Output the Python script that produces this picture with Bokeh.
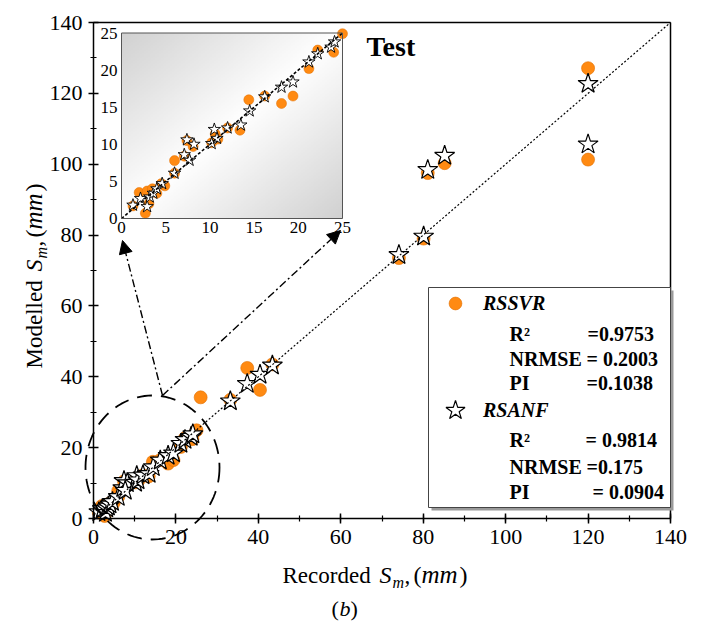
import numpy as np
from bokeh.plotting import figure
from bokeh.models import (Range1d, SingleIntervalTicker, FixedTicker, Label, Arrow, NormalHead,
                          PolyAnnotation, BoxAnnotation, Legend, LegendItem, LinearAxis)
from bokeh.core.properties import value
from bokeh.embed import file_html
from bokeh.resources import INLINE

# ---------------- data ----------------
svr_rec = [1.3, 2.0, 2.9, 3.5, 2.7, 3.1, 4.0, 4.5, 4.9, 6.0, 6.0, 7.1, 7.4, 8.1,
           10.2, 10.6, 10.9, 12.0, 13.4, 14.4, 16.2, 18.1, 19.4, 21.2, 22.2, 24.0,
           25.0, 26.0, 33.2, 37.3, 40.4, 43.4, 74.1, 80.1, 81.1, 85.2, 120.0, 120.0]
svr_mod = [1.7, 3.5, 3.7, 4.0, 0.7, 2.0, 3.4, 4.7, 4.4, 6.1, 7.8, 8.4, 10.5, 9.7,
           10.2, 11.4, 10.7, 12.2, 11.9, 16.0, 16.5, 15.5, 16.5, 20.2, 22.7, 22.4,
           24.9, 34.2, 33.5, 42.5, 36.3, 43.5, 73.5, 79.0, 97.5, 100.3, 127.1, 101.3]
anf_rec = [1.3, 2.15, 2.9, 3.2, 3.6, 4.0, 4.6, 6.0, 7.1, 7.4, 8.2, 7.7, 10.2, 10.5,
           10.8, 12.0, 13.5, 14.5, 16.2, 18.1, 19.4, 21.2, 22.2, 23.7, 24.1,
           33.2, 37.3, 40.4, 43.4, 74.1, 80.1, 81.1, 85.2, 120.0, 120.0]
anf_mod = [1.8, 2.7, 1.6, 2.9, 3.4, 4.0, 4.7, 6.1, 8.6, 10.6, 10.0, 7.85, 10.1, 12.0,
           10.8, 12.2, 12.6, 14.5, 16.4, 17.7, 18.4, 21.1, 22.2, 23.1, 23.8,
           33.1, 38.0, 40.6, 43.2, 74.4, 79.6, 98.4, 102.4, 122.7, 105.6]
main_lim = [0, 140]
inset_lim = [0, 25]
inset_ticks = [0, 5, 10, 15, 20, 25]
stat_names = ["R\u00b2", "NRMSE", "PI"]
svr_stats = ["=0.9753", "= 0.2003", "=0.1038"]
anf_stats = ["= 0.9814", "=0.175", "= 0.0904"]

# ---------------- layout constants (pixels) ----------------
W, H = 704, 624
FL, FR, FT, FB = 93, 670, 22, 518          # visible plot box
IL, IR, IT, IB = 121, 342, 32.5, 218        # inset box
SERIF = "Liberation Serif"
ORANGE, ORANGE_EDGE = "#FF8A12", "#E06E00"
BASE_SHIFT = 0.36                           # Label anchor vs. alphabetic baseline (em)

# The frame fills the whole canvas; the plot box [0,140]^2 sits at FL..FR, FT..FB.
kxm = (FR - FL) / (main_lim[1] - main_lim[0])
kym = (FB - FT) / (main_lim[1] - main_lim[0])
x_rng = Range1d(main_lim[0] - FL / kxm, main_lim[1] + (W - FR) / kxm)
y_rng = Range1d(main_lim[0] - (H - FB) / kym, main_lim[1] + FT / kym)


def dx(px):
    return main_lim[0] + (px - FL) / kxm


def dy(py):
    return main_lim[0] + (FB - py) / kym


p = figure(width=W, height=H, x_range=x_rng, y_range=y_rng,
           output_backend="svg", toolbar_location=None, x_axis_location=None,
           y_axis_location=None, min_border=0)
p.grid.visible = False
p.outline_line_color = None
p.background_fill_color = "white"
p.border_fill_color = "white"


def make_axis(loc, ticks=True):
    if ticks:
        ax = LinearAxis(fixed_location=loc, bounds=tuple(main_lim),
                        ticker=SingleIntervalTicker(interval=20, num_minor_ticks=2),
                        axis_line_width=1.5, axis_line_color="black",
                        major_tick_line_width=1.5, minor_tick_line_width=1.2,
                        major_tick_in=5, major_tick_out=5, minor_tick_in=3, minor_tick_out=3,
                        major_label_text_font=SERIF, major_label_text_font_size="22px",
                        major_label_text_color="black", major_label_standoff=6)
    else:
        ax = LinearAxis(fixed_location=loc, bounds=tuple(main_lim),
                        ticker=FixedTicker(ticks=[]), axis_line_width=1.5,
                        axis_line_color="black", major_tick_line_color=None,
                        minor_tick_line_color=None)
    return ax


p.add_layout(make_axis(main_lim[0]), "below")
p.add_layout(make_axis(main_lim[0]), "left")
p.add_layout(make_axis(main_lim[1], ticks=False), "above")
p.add_layout(make_axis(main_lim[1], ticks=False), "right")

# ---------------- main scatter ----------------
r_svr = p.scatter(svr_rec, svr_mod, marker="circle", size=13, fill_color=ORANGE,
                  line_color=ORANGE_EDGE, line_width=0.6)
r_anf = p.scatter(anf_rec, anf_mod, marker="star", size=21, fill_color="white",
                  line_color="black", line_width=1.2)
p.line(main_lim, main_lim, line_color="black", line_width=1.2, line_dash="2 2")

# ---------------- inset (extra ranges mapped onto the inset box) ----------------
kx = (IR - IL) / (inset_lim[1] - inset_lim[0])
ky = (IB - IT) / (inset_lim[1] - inset_lim[0])
p.extra_x_ranges["ix"] = Range1d(inset_lim[0] - IL / kx, inset_lim[1] + (W - IR) / kx)
p.extra_y_ranges["iy"] = Range1d(inset_lim[0] - (H - IB) / ky, inset_lim[1] + IT / ky)

N = 120
gx, gy = np.meshgrid(np.linspace(0, 1, N), np.linspace(0, 1, N))
u = (gx + (1 - gy)) / 2
g = (255 - 46 * np.abs(2 * u - 1)).astype(np.uint8)
img = np.empty((N, N), dtype=np.uint32)
view = img.view(dtype=np.uint8).reshape((N, N, 4))
view[..., 0] = g
view[..., 1] = g
view[..., 2] = g
view[..., 3] = 255
span = inset_lim[1] - inset_lim[0]
p.image_rgba(image=[img], x=inset_lim[0], y=inset_lim[0], dw=span, dh=span,
             x_range_name="ix", y_range_name="iy")

sr, sm = np.array(svr_rec), np.array(svr_mod)
ar, am = np.array(anf_rec), np.array(anf_mod)
ms = (sr <= inset_lim[1] + 0.1) & (sm <= inset_lim[1] + 0.1)
ma = (ar <= inset_lim[1] + 0.1) & (am <= inset_lim[1] + 0.1)
p.scatter(sr[ms], sm[ms], marker="circle", size=10, fill_color=ORANGE,
          line_color=ORANGE_EDGE, line_width=0.5, x_range_name="ix", y_range_name="iy")
p.scatter(ar[ma], am[ma], marker="star", size=13, fill_color="white",
          line_color="black", line_width=0.9, x_range_name="ix", y_range_name="iy")
p.line(inset_lim, inset_lim, line_color="black", line_width=1.6, line_dash="3 2",
       x_range_name="ix", y_range_name="iy")
p.quad(left=inset_lim[0], right=inset_lim[1], bottom=inset_lim[0], top=inset_lim[1],
       fill_alpha=0, line_color="#555555", line_width=1,
       x_range_name="ix", y_range_name="iy")
p.text(x=inset_ticks, y=[inset_lim[0]] * len(inset_ticks), text=[str(t) for t in inset_ticks],
       x_range_name="ix", y_range_name="iy", text_font=value(SERIF), text_font_size="17px",
       text_align="center", text_baseline="top", y_offset=3, text_color="black")
p.text(x=[inset_lim[0]] * len(inset_ticks), y=inset_ticks, text=[str(t) for t in inset_ticks],
       x_range_name="ix", y_range_name="iy", text_font=value(SERIF), text_font_size="17px",
       text_align="right", text_baseline="middle", x_offset=-4, text_color="black")

# ---------------- zoom circle and arrows ----------------
t = np.linspace(0, 2 * np.pi, 120)
ecx, ecy, erx, ery = 152, 467, 67, 72
p.add_layout(PolyAnnotation(xs=[dx(v) for v in ecx + erx * np.cos(t)],
                            ys=[dy(v) for v in ecy + ery * np.sin(t)],
                            fill_alpha=0, line_color="black", line_alpha=1,
                            line_width=1.8, line_dash="15 9"))
for ex, ey in [(122, 240), (340, 230)]:
    p.add_layout(Arrow(end=NormalHead(size=13, fill_color="black", line_color="black"),
                       x_start=dx(162), y_start=dy(395), x_end=dx(ex), y_end=dy(ey),
                       line_color="black", line_width=1.4, line_dash="8 3 2 3"))

# ---------------- legend box ----------------
p.add_layout(BoxAnnotation(left=dx(431), right=dx(673), top=dy(290), bottom=dy(510),
                           fill_color="#9a9a9a", fill_alpha=1, line_alpha=0))
p.add_layout(BoxAnnotation(left=dx(428), right=dx(670), top=dy(287), bottom=dy(507),
                           fill_color="white", fill_alpha=1, line_color="#444444",
                           line_width=1, line_alpha=1))

# legend glyphs are drawn at 0.4 x the glyph box, so each entry gets its own box size
for label, rend, box, cy in [("RSSVR", r_svr, 32, 303), ("RSANF", r_anf, 50, 410)]:
    half = box // 2
    p.add_layout(Legend(items=[LegendItem(label=label, renderers=[rend])],
                        location=(455 - half, H - (cy + half)),
                        glyph_width=box, glyph_height=box, padding=0, margin=0,
                        label_standoff=int(483 - (455 + half)),
                        border_line_alpha=0, background_fill_alpha=0,
                        label_text_font=SERIF, label_text_font_style="bold italic",
                        label_text_font_size="20px", label_text_color="black"))

rows_y = [[333, 358, 382], [439, 466, 491]]
val_x = [[587, 586, 586], [585, 586, 592]]
for stats, ys, xs in [(svr_stats, rows_y[0], val_x[0]), (anf_stats, rows_y[1], val_x[1])]:
    for name, val, yy, xx in zip(stat_names, stats, ys, xs):
        p.add_layout(Label(x=dx(509), y=dy(yy), text=name, text_font=SERIF,
                           text_font_style="bold", text_font_size="20px",
                           text_baseline="alphabetic", text_color="black"))
        p.add_layout(Label(x=dx(xx), y=dy(yy), text=val, text_font=SERIF,
                           text_font_style="bold", text_font_size="20px",
                           text_baseline="alphabetic", text_color="black"))


# ---------------- texts ----------------
def put_label(txt, px, py, size, style, vertical=False):
    # (px, py) is the wanted start of the text's baseline, in canvas pixels
    if vertical:
        px, angle = px - BASE_SHIFT * size, np.pi / 2
    else:
        py, angle = py - BASE_SHIFT * size, 0.0
    p.add_layout(Label(x=dx(px), y=dy(py), text=txt, angle=angle, text_font=SERIF,
                       text_font_style=style, text_font_size=f"{size}px",
                       text_align="left", text_baseline="alphabetic", text_color="black"))


put_label("Test", 366, 56, 28, "bold")


def axis_label(start, base, vertical, word):
    pieces = [(word, 0, 23, "normal", 0), ("S", 97, 24, "italic", 0),
              ("m", 110, 16, "italic", 5), (",", 122, 23, "normal", 0),
              ("(", 131, 24, "normal", 0), ("mm", 139, 25, "italic", 0),
              (")", 177, 24, "normal", 0)]
    for txt, off, size, style, shift in pieces:
        if vertical:
            put_label(txt, base + shift, start - off, size, style, vertical=True)
        else:
            put_label(txt, start + off, base + shift, size, style)


axis_label(282, 583, False, "Recorded")
axis_label(368, 42, True, "Modelled")
for txt, xx, style in [("(", 331, "normal"), ("b", 339, "italic"), (")", 350, "normal")]:
    put_label(txt, xx, 616, 22, style)

open("out.html", "w").write(file_html(p, INLINE))
